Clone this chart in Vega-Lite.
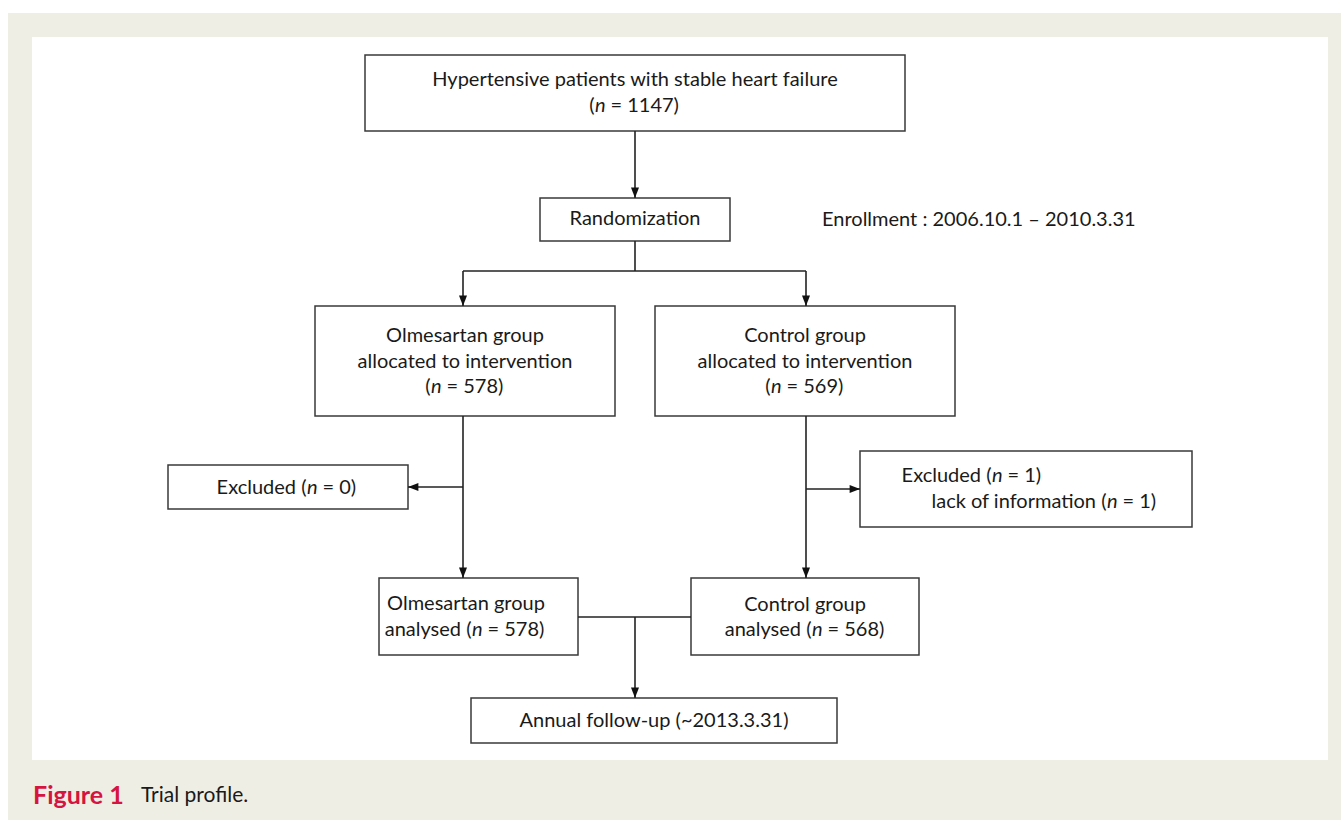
{
  "$schema": "https://vega.github.io/schema/vega-lite/v6.json",
  "width": 1341,
  "height": 820,
  "autosize": {"type": "fit", "contains": "padding"},
  "padding": 0,
  "background": "#ffffff",
  "config": {"view": {"stroke": null}},
  "datasets": {
    "panels": [
      {"kind": "page", "x1": 8, "x2": 1341, "y1": 13, "y2": 820},
      {"kind": "panel", "x1": 32, "x2": 1328, "y1": 37, "y2": 760}
    ],
    "boxes": [
      {"box": "Screened", "x1": 365, "x2": 905, "y1": 55, "y2": 131},
      {"box": "Randomization", "x1": 540, "x2": 730, "y1": 198, "y2": 241},
      {"box": "Olmesartan allocated", "x1": 315, "x2": 615, "y1": 306, "y2": 416},
      {"box": "Control allocated", "x1": 655, "x2": 955, "y1": 306, "y2": 416},
      {"box": "Olmesartan excluded", "x1": 168, "x2": 408, "y1": 465, "y2": 509},
      {"box": "Control excluded", "x1": 860, "x2": 1192, "y1": 451, "y2": 527},
      {"box": "Olmesartan analysed", "x1": 379, "x2": 578, "y1": 578, "y2": 655},
      {"box": "Control analysed", "x1": 691, "x2": 919, "y1": 578, "y2": 655},
      {"box": "Follow-up", "x1": 471, "x2": 837, "y1": 698, "y2": 743}
    ],
    "links": [
      {"x1": 635, "y1": 131, "x2": 635, "y2": 198},
      {"x1": 635, "y1": 241, "x2": 635, "y2": 271},
      {"x1": 463, "y1": 271, "x2": 806, "y2": 271},
      {"x1": 463, "y1": 271, "x2": 463, "y2": 306},
      {"x1": 806, "y1": 271, "x2": 806, "y2": 306},
      {"x1": 463, "y1": 416, "x2": 463, "y2": 578},
      {"x1": 463, "y1": 487, "x2": 408, "y2": 487},
      {"x1": 806, "y1": 416, "x2": 806, "y2": 578},
      {"x1": 806, "y1": 489, "x2": 860, "y2": 489},
      {"x1": 578, "y1": 617, "x2": 691, "y2": 617},
      {"x1": 635, "y1": 617, "x2": 635, "y2": 698}
    ],
    "heads": [
      {"dir": "down", "x": 635, "y": 198},
      {"dir": "down", "x": 463, "y": 306},
      {"dir": "down", "x": 806, "y": 306},
      {"dir": "down", "x": 463, "y": 578},
      {"dir": "left", "x": 408, "y": 487},
      {"dir": "down", "x": 806, "y": 578},
      {"dir": "right", "x": 860, "y": 489},
      {"dir": "down", "x": 635, "y": 698}
    ],
    "centred": [
      {"x": 635, "y": 80, "t": "Hypertensive patients with stable heart failure"},
      {"x": 635, "y": 219, "t": "Randomization"},
      {"x": 465, "y": 336, "t": "Olmesartan group"},
      {"x": 465, "y": 362, "t": "allocated to intervention"},
      {"x": 805, "y": 336, "t": "Control group"},
      {"x": 805, "y": 362, "t": "allocated to intervention"},
      {"x": 466, "y": 604, "t": "Olmesartan group"},
      {"x": 805, "y": 605, "t": "Control group"},
      {"x": 654, "y": 721, "t": "Annual follow-up (~2013.3.31)"}
    ],
    "lefttext": [
      {"x": 822, "y": 220, "t": "Enrollment : 2006.10.1 – 2010.3.31"}
    ],
    "nline": [
      {"nx": 595, "y": 106, "pre": "(", "post": "= 1147)"},
      {"nx": 431, "y": 387, "pre": "(", "post": "= 578)"},
      {"nx": 771, "y": 387, "pre": "(", "post": "= 569)"},
      {"nx": 307, "y": 488, "pre": "Excluded (", "post": "= 0)"},
      {"nx": 992, "y": 476, "pre": "Excluded (", "post": "= 1)"},
      {"nx": 1107, "y": 502, "pre": "lack of information (", "post": "= 1)"},
      {"nx": 472, "y": 630, "pre": "analysed (", "post": "= 578)"},
      {"nx": 812, "y": 630, "pre": "analysed (", "post": "= 568)"}
    ],
    "caption": [
      {"part": "label", "x": 33, "y": 796, "t": "Figure 1"},
      {"part": "title", "x": 141, "y": 796, "t": "Trial profile."}
    ]
  },
  "layer": [
    {
      "data": {"name": "panels"},
      "mark": {"type": "rect"},
      "encoding": {
        "x": {"field": "x1", "type": "quantitative", "scale": {"domain": [0, 1341], "nice": false, "zero": false}, "axis": null},
        "x2": {"field": "x2"},
        "y": {"field": "y1", "type": "quantitative", "scale": {"domain": [0, 820], "nice": false, "zero": false, "reverse": true}, "axis": null},
        "y2": {"field": "y2"},
        "color": {"field": "kind", "type": "nominal", "scale": {"domain": ["page", "panel"], "range": ["#efeee5", "#ffffff"]}, "legend": null}
      }
    },
    {
      "data": {"name": "boxes"},
      "mark": {"type": "rect", "fill": "#ffffff", "stroke": "#3a3a3a", "strokeWidth": 1.5},
      "encoding": {
        "x": {"field": "x1", "type": "quantitative"},
        "x2": {"field": "x2"},
        "y": {"field": "y1", "type": "quantitative"},
        "y2": {"field": "y2"}
      }
    },
    {
      "data": {"name": "links"},
      "mark": {"type": "rule", "color": "#222222", "strokeWidth": 1.6},
      "encoding": {
        "x": {"field": "x1", "type": "quantitative"},
        "x2": {"field": "x2"},
        "y": {"field": "y1", "type": "quantitative"},
        "y2": {"field": "y2"}
      }
    },
    {
      "data": {"name": "heads"},
      "mark": {"type": "point", "filled": true, "opacity": 1, "color": "#111111", "size": 64},
      "encoding": {
        "x": {"field": "x", "type": "quantitative"},
        "y": {"field": "y", "type": "quantitative"},
        "shape": {"field": "dir", "type": "nominal", "scale": {"domain": ["down", "left", "right"], "range": ["M-1,-2.6L1,-2.6L0,0Z", "M2.6,-1L2.6,1L0,0Z", "M-2.6,-1L-2.6,1L0,0Z"]}, "legend": null}
      }
    },
    {
      "data": {"name": "centred"},
      "mark": {"type": "text", "align": "center", "baseline": "middle", "font": "Lato", "fontSize": 20, "color": "#1a1a1a"},
      "encoding": {
        "x": {"field": "x", "type": "quantitative"},
        "y": {"field": "y", "type": "quantitative"},
        "text": {"field": "t"}
      }
    },
    {
      "data": {"name": "lefttext"},
      "mark": {"type": "text", "align": "left", "baseline": "middle", "font": "Lato", "fontSize": 20, "color": "#1a1a1a"},
      "encoding": {
        "x": {"field": "x", "type": "quantitative"},
        "y": {"field": "y", "type": "quantitative"},
        "text": {"field": "t"}
      }
    },
    {
      "data": {"name": "nline"},
      "mark": {"type": "text", "align": "right", "baseline": "middle", "font": "Lato", "fontSize": 20, "color": "#1a1a1a", "dx": -0.5},
      "encoding": {
        "x": {"field": "nx", "type": "quantitative"},
        "y": {"field": "y", "type": "quantitative"},
        "text": {"field": "pre"}
      }
    },
    {
      "data": {"name": "nline"},
      "mark": {"type": "text", "align": "left", "baseline": "middle", "font": "Lato", "fontSize": 20, "fontStyle": "italic", "color": "#1a1a1a"},
      "encoding": {
        "x": {"field": "nx", "type": "quantitative"},
        "y": {"field": "y", "type": "quantitative"},
        "text": {"value": "n"}
      }
    },
    {
      "data": {"name": "nline"},
      "mark": {"type": "text", "align": "left", "baseline": "middle", "font": "Lato", "fontSize": 20, "color": "#1a1a1a", "dx": 15.5},
      "encoding": {
        "x": {"field": "nx", "type": "quantitative"},
        "y": {"field": "y", "type": "quantitative"},
        "text": {"field": "post"}
      }
    },
    {
      "data": {"name": "caption"},
      "transform": [{"filter": "datum.part === 'label'"}],
      "mark": {"type": "text", "align": "left", "baseline": "middle", "font": "Lato", "fontSize": 25, "fontWeight": "bold", "color": "#d5143f"},
      "encoding": {
        "x": {"field": "x", "type": "quantitative"},
        "y": {"field": "y", "type": "quantitative"},
        "text": {"field": "t"}
      }
    },
    {
      "data": {"name": "caption"},
      "transform": [{"filter": "datum.part === 'title'"}],
      "mark": {"type": "text", "align": "left", "baseline": "middle", "font": "Lato", "fontSize": 21, "color": "#1a1a1a"},
      "encoding": {
        "x": {"field": "x", "type": "quantitative"},
        "y": {"field": "y", "type": "quantitative"},
        "text": {"field": "t"}
      }
    }
  ]
}
